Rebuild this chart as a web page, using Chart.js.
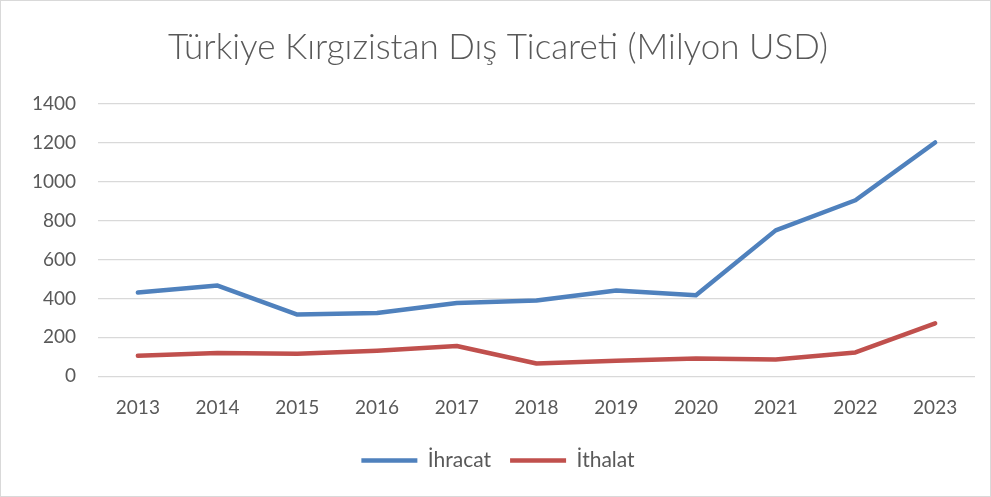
<!DOCTYPE html>
<html><head><meta charset="utf-8">
<script src="https://cdn.jsdelivr.net/npm/chart.js@4.4.0/dist/chart.umd.min.js"></script>
<style>
html,body{margin:0;padding:0;background:#fff;}
#wrap{position:absolute;left:0;top:0;width:989px;height:495px;border:1px solid #d9d9d9;}
canvas{display:block;}
</style></head><body>
<div id="wrap"><canvas id="c" width="989" height="495"></canvas></div>
<script>
const years = ['2013','2014','2015','2016','2017','2018','2019','2020','2021','2022','2023'];
const ihracat = [430, 466, 317, 325, 377, 389, 441, 416, 750, 905, 1202];
const ithalat = [105, 119, 115, 131, 155, 65, 79, 91, 86, 122, 272];
const yTicks = [0,200,400,600,800,1000,1200,1400];
const FONT = "Lato, 'Open Sans', sans-serif";
const TXT = '#595959';
new Chart(document.getElementById('c'), {
  type: 'line',
  data: {
    labels: years,
    datasets: [
      {label:'İhracat', data: ihracat, borderColor:'#4f81bd', backgroundColor:'#4f81bd', borderWidth:4.5, pointRadius:0, borderCapStyle:'round', borderJoinStyle:'round', tension:0},
      {label:'İthalat', data: ithalat, borderColor:'#c0504d', backgroundColor:'#c0504d', borderWidth:4.5, pointRadius:0, borderCapStyle:'round', borderJoinStyle:'round', tension:0}
    ]
  },
  options: {
    responsive:false, animation:false,
    layout:{padding:{left:20,right:15,top:20,bottom:15}},
    plugins:{
      title:{display:true, text:'Türkiye Kırgızistan Dış Ticareti (Milyon USD)', color:TXT, font:{family:FONT, size:35, weight:'300'}, padding:{top:6,bottom:35}},
      legend:{position:'bottom', labels:{usePointStyle:true, pointStyle:'line', pointStyleWidth:56, color:TXT, font:{family:FONT,size:21}, padding:19}},
      tooltip:{enabled:false}
    },
    scales:{
      x:{offset:true, grid:{display:false}, border:{display:false}, ticks:{color:TXT, font:{family:FONT,size:19}, padding:12}},
      y:{min:0,max:1400, afterBuildTicks:s=>{s.ticks=yTicks.map(v=>({value:v}));}, afterFit:s=>{s.width=77;}, grid:{color:'#d9d9d9', lineWidth:1.3, drawTicks:false}, border:{display:false}, ticks:{color:TXT, font:{family:FONT,size:19}, padding:22, callback:v=>String(v)}}
    }
  }
});
</script></body></html>
